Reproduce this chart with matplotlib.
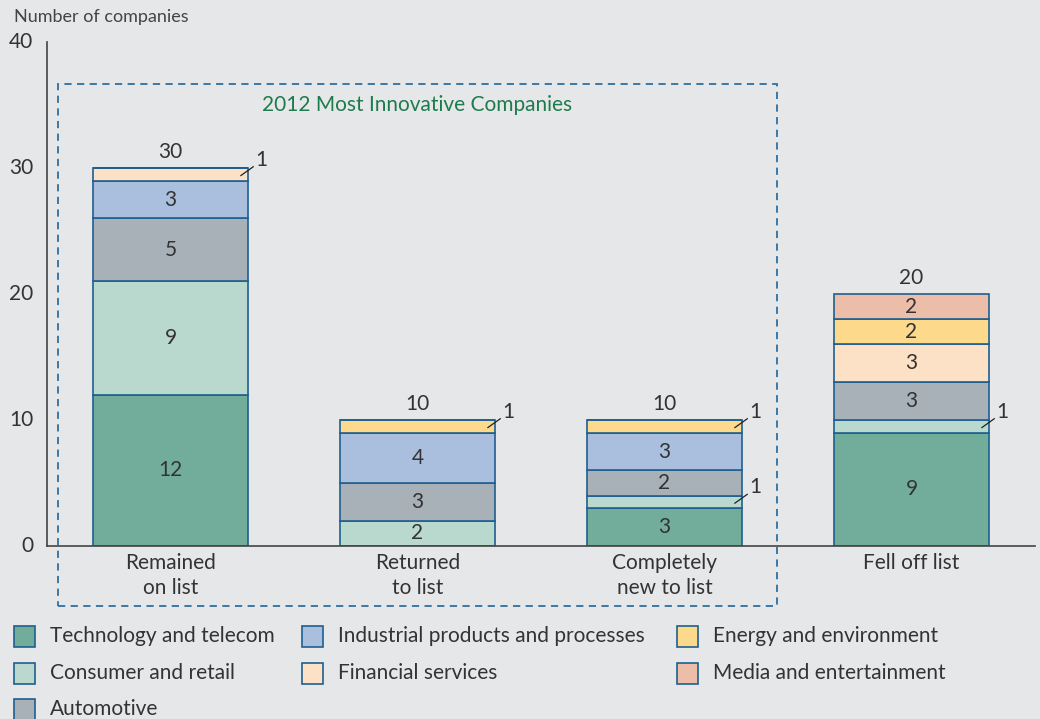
import numpy as np
import matplotlib.pyplot as plt
import matplotlib.transforms as mtransforms
from matplotlib.patches import Rectangle

plt.rcParams['font.family'] = ['Lato', 'DejaVu Sans']

# Data
categories = ['Remained\non list', 'Returned\nto list', 'Completely\nnew to list', 'Fell off list']
sectors = ['Technology and telecom', 'Consumer and retail', 'Automotive',
           'Industrial products and processes', 'Financial services',
           'Energy and environment', 'Media and entertainment']
tech = [12, 0, 3, 9]
consumer = [9, 2, 1, 1]
auto = [5, 3, 2, 3]
industrial = [3, 4, 3, 0]
financial = [1, 0, 0, 3]
energy = [0, 1, 1, 2]
media = [0, 0, 0, 2]
totals = [30, 10, 10, 20]

series = [tech, consumer, auto, industrial, financial, energy, media]
colors = ['#72ad9b', '#b9d9cf', '#a8b0b8', '#aabfdd', '#fde1c6', '#fdd98c', '#ecbda9']
edge = '#1f5f8f'
bg = '#e6e7e8'
txt = '#333333'
fs = 15

fig = plt.figure(figsize=(10.4, 7.19), dpi=100)
fig.patch.set_facecolor(bg)
ax = fig.add_axes([47 / 1040, 1 - 546 / 719, 988 / 1040, 504 / 719])
ax.set_facecolor(bg)

x = np.arange(len(categories))
width = 0.63
bottom = np.zeros(len(categories))
for vals, col in zip(series, colors):
    vals = np.array(vals, dtype=float)
    ax.bar(x, vals, width, bottom=bottom, color=col, edgecolor=edge, linewidth=1.2)
    for i, v in enumerate(vals):
        if v == 0:
            continue
        yc = bottom[i] + v / 2
        if v == 1:
            # small segment: label outside with leader line
            xr = x[i] + width / 2
            ax.plot([xr - 0.03, xr + 0.02], [yc - 0.1, yc + 0.6], color='#222222', lw=0.9)
            ax.text(xr + 0.03, yc + 0.35, '1', ha='left', va='bottom', fontsize=fs, color=txt)
        else:
            ax.text(x[i], yc, f'{int(v)}', ha='center', va='center', fontsize=fs, color=txt)
    bottom += vals

for i, t in enumerate(totals):
    ax.annotate(f'{t}', (x[i], t), xytext=(0, 4), textcoords='offset points',
                ha='center', va='bottom', fontsize=fs, color=txt)

ax.set_xlim(-0.5, 3.5)
ax.set_ylim(0, 40)
ax.set_yticks([0, 10, 20, 30, 40])
ax.set_xticks(x)
ax.set_xticklabels(categories, fontsize=fs, color=txt, linespacing=1.3)
ax.tick_params(axis='both', length=0, labelsize=fs, labelcolor=txt)
ax.tick_params(axis='y', pad=10)
ax.tick_params(axis='x', pad=5)
shift = mtransforms.ScaledTranslation(0, 2 / 100, fig.dpi_scale_trans)
for lab in ax.get_yticklabels():
    lab.set_transform(lab.get_transform() + shift)
for s in ['top', 'right']:
    ax.spines[s].set_visible(False)
for s in ['left', 'bottom']:
    ax.spines[s].set_color('#444444')
    ax.spines[s].set_linewidth(1.2)

fig.text(14 / 1040, 1 - 17 / 719, 'Number of companies', fontsize=13, color='#444444',
         ha='left', va='center')

# dashed box around 2012 list
box = Rectangle((58 / 1040, 1 - 606 / 719), (777 - 58) / 1040, (606 - 84) / 719,
                transform=fig.transFigure, fill=False, edgecolor='#2f6f9f',
                linewidth=1.3, linestyle=(0, (4, 3)))
fig.add_artist(box)
fig.text(417 / 1040, 1 - 105 / 719, '2012 Most Innovative Companies', fontsize=15,
         color='#1e7b4e', ha='center', va='center')

# legend
leg_cols = [14, 302, 677]
leg_rows = [636, 673, 709]
leg_pos = [(0, 0), (0, 1), (0, 2), (1, 0), (1, 1), (2, 0), (2, 1)]
for name, col, (c, r) in zip(sectors, colors, leg_pos):
    x0 = leg_cols[c]
    y0 = leg_rows[r]
    sq = Rectangle((x0 / 1040, 1 - (y0 + 11) / 719), 21 / 1040, 21 / 719,
                   transform=fig.transFigure, facecolor=col, edgecolor=edge, linewidth=1.2)
    fig.add_artist(sq)
    fig.text((x0 + 36) / 1040, 1 - y0 / 719, name, fontsize=15, color=txt,
             ha='left', va='center')

fig.savefig('out.png', dpi=100, facecolor=bg)
